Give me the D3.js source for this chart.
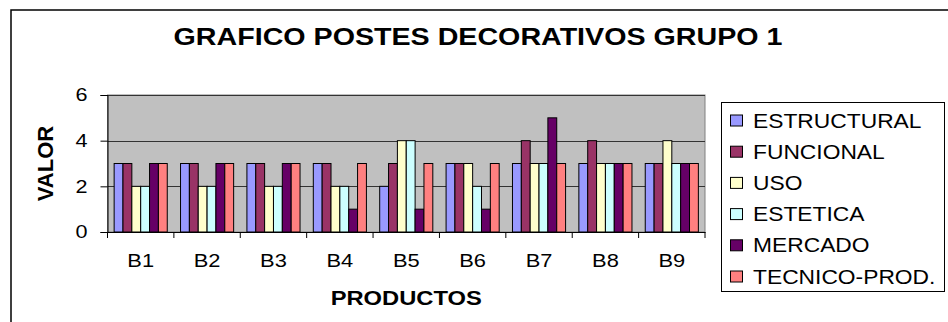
<!DOCTYPE html>
<html>
<head>
<meta charset="utf-8">
<script src="https://cdn.jsdelivr.net/npm/d3@7"></script>
<style>
  html, body { margin: 0; padding: 0; background: #fff; }
  svg { display: block; font-family: "Liberation Sans", Arial, sans-serif; }
</style>
</head>
<body>
<svg id="chart" width="948" height="322"></svg>
<script>
const categories = ["B1", "B2", "B3", "B4", "B5", "B6", "B7", "B8", "B9"];
const seriesNames = ["ESTRUCTURAL", "FUNCIONAL", "USO", "ESTETICA", "MERCADO", "TECNICO-PROD."];
const estructural = [3, 3, 3, 3, 2, 3, 3, 3, 3];
const funcional   = [3, 3, 3, 3, 3, 3, 4, 4, 3];
const uso         = [2, 2, 2, 2, 4, 3, 3, 3, 4];
const estetica    = [2, 2, 2, 2, 4, 2, 3, 3, 3];
const mercado     = [3, 3, 3, 1, 1, 1, 5, 3, 3];
const tecnicoProd = [3, 3, 3, 3, 3, 3, 3, 3, 3];
const yTicks = [0, 2, 4, 6];
const colors = ["#9999FF", "#993366", "#FFFFCC", "#CCFFFF", "#660066", "#FF8080"];
const titleText = "GRAFICO POSTES DECORATIVOS GRUPO 1";
const xTitle = "PRODUCTOS";
const yTitle = "VALOR";

const seriesValues = [estructural, funcional, uso, estetica, mercado, tecnicoProd];

const svg = d3.select("#chart");
const plot = { left: 107.5, right: 705, top: 95, bottom: 232 };

// stretch helper: text in reference is horizontally wider than plain Arial
function stretch(sel, sx) {
  sel.each(function () {
    const w = this.getComputedTextLength();
    d3.select(this).attr("textLength", w * sx).attr("lengthAdjust", "spacingAndGlyphs");
  });
}

// outer chart border (extends beyond right/bottom edge)
svg.append("rect")
  .attr("x", 11).attr("y", 10)
  .attr("width", 960).attr("height", 340)
  .attr("fill", "#fff").attr("stroke", "#000").attr("stroke-width", 1.5);

const x = d3.scaleBand().domain(categories).range([plot.left, plot.right]).padding(0);
const xs = d3.scaleBand().domain(d3.range(seriesNames.length))
  .range([0, x.bandwidth()]).paddingInner(0).paddingOuter(0.75);
const y = d3.scaleLinear().domain([0, 6]).range([plot.bottom, plot.top]);

// plot area
svg.append("rect")
  .attr("x", plot.left).attr("y", plot.top)
  .attr("width", plot.right - plot.left).attr("height", plot.bottom - plot.top)
  .attr("fill", "#C0C0C0").attr("stroke", "#808080").attr("stroke-width", 1);

// gridlines
svg.append("g").selectAll("line").data(yTicks.filter(d => d > 0)).join("line")
  .attr("x1", plot.left).attr("x2", plot.right)
  .attr("y1", d => Math.round(y(d)) + 0.5).attr("y2", d => Math.round(y(d)) + 0.5)
  .attr("stroke", "#333").attr("stroke-width", 1);

// bars
const groups = svg.append("g").selectAll("g").data(categories).join("g")
  .attr("transform", d => `translate(${x(d)},0)`);
groups.selectAll("rect")
  .data((c, i) => seriesValues.map((vals, s) => ({ s, v: vals[i] })))
  .join("rect")
  .attr("x", d => xs(d.s))
  .attr("width", xs.bandwidth())
  .attr("y", d => y(d.v))
  .attr("height", d => y(0) - y(d.v))
  .attr("fill", d => colors[d.s])
  .attr("stroke", "#000").attr("stroke-width", 1);

// y axis
const yAxis = svg.append("g")
  .attr("transform", `translate(${plot.left},0)`)
  .call(d3.axisLeft(y).tickValues(yTicks).tickFormat(d3.format("d")).tickSize(7).tickPadding(13));
yAxis.select(".domain").attr("stroke", "#000");
yAxis.selectAll(".tick line").attr("stroke", "#000");
yAxis.selectAll(".tick text").attr("font-size", 18).attr("fill", "#000")
  .attr("font-family", "Liberation Sans, Arial, sans-serif");
stretch(yAxis.selectAll(".tick text"), 1.2);

// x axis
const xAxis = svg.append("g")
  .attr("transform", `translate(0,${plot.bottom})`)
  .call(d3.axisBottom(x).tickSize(0).tickPadding(22));
xAxis.select(".domain").attr("stroke", "#000");
xAxis.selectAll(".tick text").attr("font-size", 19).attr("fill", "#000")
  .attr("font-family", "Liberation Sans, Arial, sans-serif");
stretch(xAxis.selectAll(".tick text"), 1.15);
// category boundary ticks
xAxis.append("g").selectAll("line").data(categories.concat([null])).join("line")
  .attr("x1", (d, i) => plot.left + i * x.step())
  .attr("x2", (d, i) => plot.left + i * x.step())
  .attr("y1", 0).attr("y2", 6)
  .attr("stroke", "#000");

// title
const t = svg.append("text")
  .attr("x", 478).attr("y", 45)
  .attr("text-anchor", "middle")
  .attr("font-size", 23).attr("font-weight", "bold").attr("fill", "#000")
  .text(titleText);
stretch(t, 1.245);

// axis titles
const xt = svg.append("text")
  .attr("x", (plot.left + plot.right) / 2).attr("y", 305)
  .attr("text-anchor", "middle")
  .attr("font-size", 21).attr("font-weight", "bold").attr("fill", "#000")
  .text(xTitle);
stretch(xt, 1.13);

const yt = svg.append("text")
  .attr("transform", `translate(53,${(plot.top + plot.bottom) / 2}) rotate(-90)`)
  .attr("text-anchor", "middle")
  .attr("font-size", 22).attr("font-weight", "bold").attr("fill", "#000")
  .text(yTitle);

// legend
const legend = svg.append("g");
legend.append("rect")
  .attr("x", 721.5).attr("y", 102.5).attr("width", 223).attr("height", 189)
  .attr("fill", "#fff").attr("stroke", "#000").attr("stroke-width", 1);
const items = legend.selectAll("g.item").data(seriesNames).join("g")
  .attr("class", "item")
  .attr("transform", (d, i) => `translate(0,${120.5 + i * 31.2})`);
items.append("rect")
  .attr("x", 730.5).attr("y", -5.5).attr("width", 12).attr("height", 11)
  .attr("fill", (d, i) => colors[i]).attr("stroke", "#000").attr("stroke-width", 1);
const ltext = items.append("text")
  .attr("x", 753).attr("y", 7)
  .attr("font-size", 20).attr("fill", "#000")
  .text(d => d);
stretch(ltext, 1.14);
</script>
</body>
</html>
